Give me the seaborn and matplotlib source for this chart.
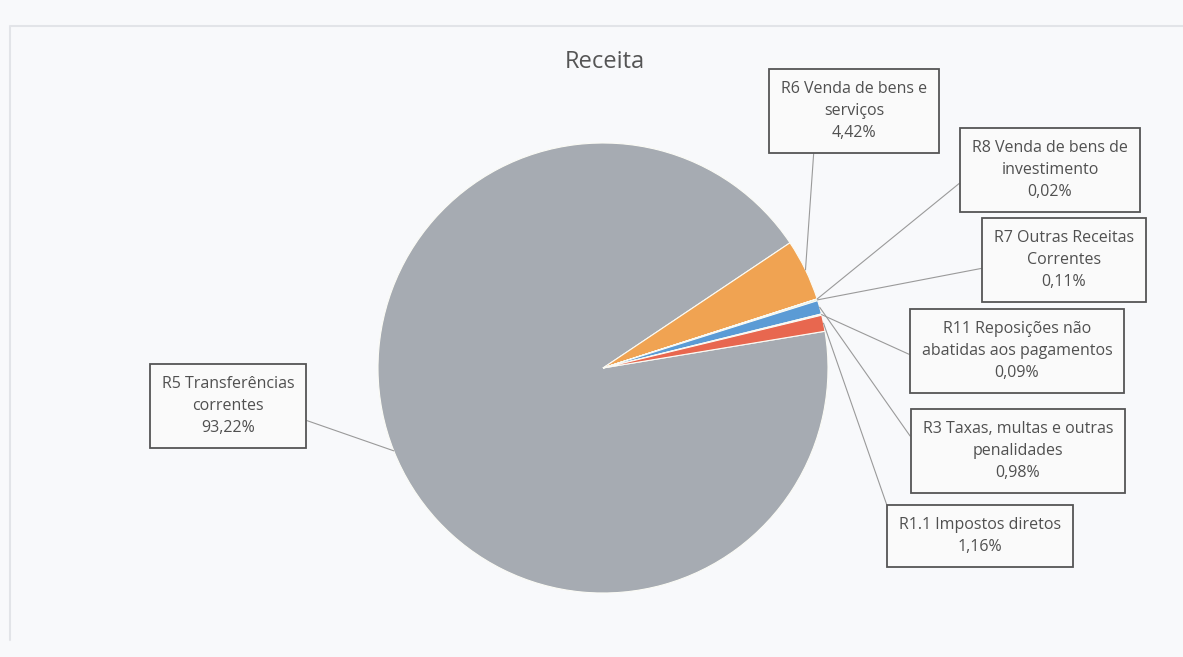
import matplotlib
matplotlib.use("Agg")
import matplotlib.pyplot as plt
import seaborn as sns
import numpy as np

# data, clockwise from R5
names = ["R5 Transferências\ncorrentes",
         "R6 Venda de bens e\nserviços",
         "R8 Venda de bens de\ninvestimento",
         "R7 Outras Receitas\nCorrentes",
         "R3 Taxas, multas e outras\npenalidades",
         "R11 Reposições não\nabatidas aos pagamentos",
         "R1.1 Impostos diretos"]
values = [93.22, 4.42, 0.02, 0.11, 0.98, 0.09, 1.16]
colors = ["#a6abb2", "#f0a352", "#f3e39a", "#bfe0cf", "#5b9bd5", "#f2d6dc", "#e8674f"]

# label box centres (pixels, top origin) and leader start point on the box
label_pos = [(228, 406), (854, 111), (1050, 170), (1064, 260), (1018, 451), (1017, 351), (980, 536)]
label_rel = [(1.0, 0.33), (0.23, 0.0), (0.0, 0.45), (0.0, 0.4), (0.0, 0.45), (0.0, 0.35), (0.0, 0.4)]

W, H = 1183, 657
cx, cy, R = 603, H - 368, 225
start = 9.4

sns.set_theme(style="white")
plt.rcParams["font.family"] = ["Open Sans", "DejaVu Sans"]

fig = plt.figure(figsize=(W / 100, H / 100), dpi=100)
fig.patch.set_facecolor("#f8f9fb")
ax = fig.add_axes([0, 0, 1, 1])
ax.set_facecolor("#f8f9fb")
ax.set_xlim(0, W)
ax.set_ylim(0, H)
ax.set_aspect("equal")
ax.axis("off")

# faint chart-area frame
ax.plot([10, 10, W], [H - 640, H - 26, H - 26], color="#e2e4e8", lw=1.5)

wedges, _ = ax.pie(values, colors=colors, startangle=start, counterclock=False,
                   center=(cx, cy), radius=R,
                   wedgeprops=dict(edgecolor="#fbfbf5", linewidth=0.8))
ax.set_xlim(0, W)
ax.set_ylim(0, H)

ax.text(605, H - 62, "Receita", ha="center", va="center", fontsize=17, color="#555555")

for w, name, v, (tx, ty), rel in zip(wedges, names, values, label_pos, label_rel):
    mid = np.deg2rad((w.theta1 + w.theta2) / 2)
    px, py = cx + R * np.cos(mid), cy + R * np.sin(mid)
    txt = name + "\n" + f"{v:.2f}".replace(".", ",") + "%"
    ax.annotate(txt, xy=(px, py), xytext=(tx, H - ty), ha="center", va="center",
                fontsize=11.5, color="#505050", linespacing=1.5,
                bbox=dict(boxstyle="square,pad=0.75", fc="#fafafa", ec="#555555", lw=1.3),
                arrowprops=dict(arrowstyle="-", color="#9a9a9a", lw=0.8,
                                shrinkA=0, shrinkB=0, relpos=rel))

fig.savefig("out.png", dpi=100, facecolor=fig.get_facecolor())
